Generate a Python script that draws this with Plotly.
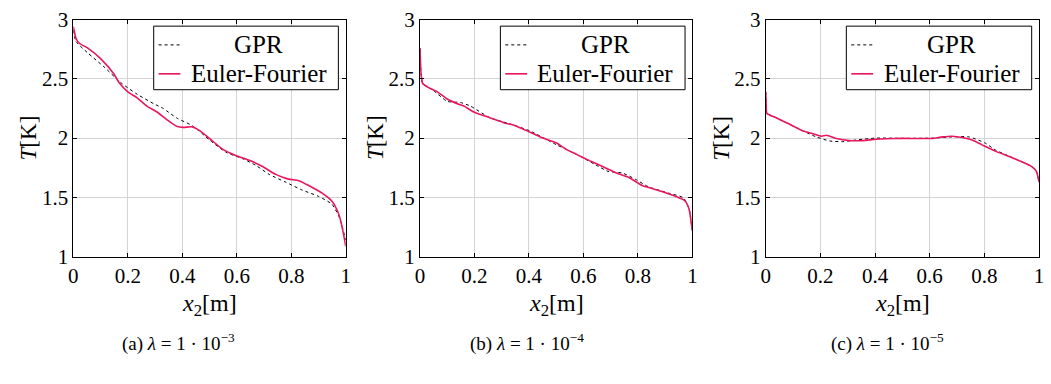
import plotly.graph_objects as go

# ---------------- data ----------------
# Panel (a) lambda = 1e-3
a_ef_x = [0.0, 0.01, 0.022, 0.052, 0.1, 0.149, 0.167, 0.2, 0.234, 0.27, 0.307, 0.343, 0.379, 0.404,
          0.434, 0.464, 0.5, 0.549, 0.598, 0.646, 0.695, 0.743, 0.79, 0.828, 0.864, 0.913, 0.949,
          0.967, 0.979, 0.992, 1.0]
a_ef_y = [2.94, 2.84, 2.80, 2.76, 2.67, 2.54, 2.47, 2.39, 2.34, 2.27, 2.22, 2.156, 2.10, 2.09,
          2.095, 2.063, 1.997, 1.905, 1.852, 1.813, 1.76, 1.694, 1.654, 1.641, 1.60, 1.536, 1.47,
          1.40, 1.325, 1.19, 1.087]
a_gpr_x = [0.0, 0.01, 0.052, 0.113, 0.173, 0.234, 0.295, 0.33, 0.379, 0.44, 0.5, 0.561, 0.622,
           0.67, 0.719, 0.78, 0.84, 0.9, 0.949, 0.973, 0.985, 1.0]
a_gpr_y = [2.91, 2.815, 2.72, 2.60, 2.47, 2.37, 2.29, 2.25, 2.17, 2.10, 1.984, 1.88, 1.826,
           1.77, 1.694, 1.628, 1.562, 1.509, 1.443, 1.35, 1.27, 1.14]

# Panel (b) lambda = 1e-4
b_ef_x = [0.0, 0.004, 0.01, 0.028, 0.064, 0.1, 0.137, 0.161, 0.198, 0.258, 0.307, 0.343, 0.404,
          0.452, 0.5, 0.537, 0.573, 0.622, 0.67, 0.719, 0.767, 0.816, 0.852, 0.888, 0.937, 0.973,
          0.988, 0.995, 1.0]
b_ef_y = [2.76, 2.54, 2.46, 2.43, 2.39, 2.33, 2.29, 2.27, 2.22, 2.17, 2.13, 2.11, 2.05,
          2.00, 1.96, 1.905, 1.865, 1.81, 1.76, 1.707, 1.668, 1.60, 1.575, 1.55, 1.51, 1.47,
          1.40, 1.30, 1.22]
b_gpr_x = [0.0, 0.004, 0.01, 0.05, 0.1, 0.149, 0.185, 0.258, 0.33, 0.404, 0.5, 0.573, 0.646,
           0.69, 0.743, 0.79, 0.84, 0.913, 0.967, 0.988, 0.995, 1.0]
b_gpr_y = [2.75, 2.54, 2.46, 2.40, 2.31, 2.30, 2.27, 2.17, 2.12, 2.06, 1.945, 1.865, 1.773,
           1.72, 1.705, 1.654, 1.588, 1.536, 1.496, 1.40, 1.30, 1.22]

# Panel (c) lambda = 1e-5
c_ef_x = [0.0, 0.002, 0.004, 0.04, 0.088, 0.137, 0.173, 0.204, 0.222, 0.258, 0.307, 0.355,
          0.404, 0.476, 0.549, 0.61, 0.646, 0.682, 0.719, 0.755, 0.79, 0.84, 0.888, 0.937,
          0.973, 0.99, 1.0]
c_ef_y = [2.39, 2.27, 2.21, 2.17, 2.116, 2.06, 2.037, 2.016, 2.024, 1.997, 1.979, 1.979,
          1.99, 1.997, 1.997, 1.997, 2.01, 2.016, 2.005, 1.984, 1.945, 1.89, 1.847, 1.80,
          1.76, 1.72, 1.63]
c_gpr_x = [0.0, 0.002, 0.004, 0.04, 0.088, 0.137, 0.185, 0.234, 0.282, 0.33, 0.404, 0.5,
           0.61, 0.682, 0.743, 0.803, 0.84, 0.888, 0.937, 0.973, 0.99, 1.0]
c_gpr_y = [2.39, 2.27, 2.21, 2.17, 2.116, 2.06, 2.01, 1.976, 1.97, 1.984, 2.0, 1.998,
           2.0, 2.01, 2.01, 1.958, 1.90, 1.85, 1.80, 1.76, 1.72, 1.63]

panels = [
    (a_gpr_x, a_gpr_y, a_ef_x, a_ef_y, "(a) <i>λ</i> = 1 · 10<sup>−3</sup>"),
    (b_gpr_x, b_gpr_y, b_ef_x, b_ef_y, "(b) <i>λ</i> = 1 · 10<sup>−4</sup>"),
    (c_gpr_x, c_gpr_y, c_ef_x, c_ef_y, "(c) <i>λ</i> = 1 · 10<sup>−5</sup>"),
]

x_ticks = [0, 0.2, 0.4, 0.6, 0.8, 1]
x_ticklabels = ["0", "0.2", "0.4", "0.6", "0.8", "1"]
y_ticks = [1, 1.5, 2, 2.5, 3]
y_ticklabels = ["1", "1.5", "2", "2.5", "3"]
legend_labels = ["GPR", "Euler-Fourier"]

# ---------------- style ----------------
W, H = 1051, 384
PINK = "rgb(232,23,93)"
FONT = "'Liberation Serif', 'DejaVu Serif', serif"
x_dom_px = [(69, 344), (419, 694), (768, 1044)]
y_dom = [1 - 261 / H, 1 - 8 / H]
caption_px = [175, 527, 891]

fig = go.Figure()
shapes = []
annotations = []

for i, (gx, gy, ex, ey, cap) in enumerate(panels):
    n = "" if i == 0 else str(i + 1)
    xa, ya = "x" + n, "y" + n
    fig.add_trace(go.Scatter(x=gx, y=gy, mode="lines", xaxis=xa, yaxis=ya, showlegend=False,
                             line=dict(color="black", width=1, dash="3px,3px", shape="spline",
                                       smoothing=0.6)))
    fig.add_trace(go.Scatter(x=ex, y=ey, mode="lines", xaxis=xa, yaxis=ya, showlegend=False,
                             line=dict(color=PINK, width=1.6, shape="spline", smoothing=0.6)))
    axis_common = dict(showline=True, linecolor="black", linewidth=1, mirror="ticks",
                       ticks="inside", ticklen=4, tickcolor="black", showgrid=True,
                       gridcolor="#d4d4d4", gridwidth=1, zeroline=False,
                       ticklabeloverflow="allow",
                       tickfont=dict(family=FONT, size=21, color="black"))
    fig.update_layout(**{
        "xaxis" + n: dict(domain=[x_dom_px[i][0] / W, x_dom_px[i][1] / W], range=[0, 1],
                          tickvals=x_ticks, ticktext=x_ticklabels, anchor=ya, **axis_common),
        "yaxis" + n: dict(domain=y_dom, range=[1, 3], tickvals=y_ticks, ticktext=y_ticklabels,
                          anchor=xa, **axis_common),
    })
    xd, yd = xa + " domain", ya + " domain"
    # legend box
    shapes.append(dict(type="rect", xref=xd, yref=yd, x0=0.295, x1=0.973, y0=0.704, y1=0.972,
                       line=dict(color="black", width=1), fillcolor="white", layer="above"))
    shapes.append(dict(type="line", xref=xd, yref=yd, x0=0.313, x1=0.393, y0=0.893, y1=0.893,
                       line=dict(color="black", width=1, dash="3px,3px"), layer="above"))
    shapes.append(dict(type="line", xref=xd, yref=yd, x0=0.313, x1=0.393, y0=0.771, y1=0.771,
                       line=dict(color=PINK, width=1.6), layer="above"))
    for lab, yy in zip(legend_labels, [0.893, 0.771]):
        annotations.append(dict(text=lab, xref=xd, yref=yd, x=0.68, y=yy, showarrow=False,
                                xanchor="center", yanchor="middle",
                                font=dict(family=FONT, size=25, color="black")))
    # axis titles
    annotations.append(dict(text="<i>x</i><sub>2</sub>[m]", xref=xd, yref="paper", x=0.5,
                            y=1 - 312 / H, showarrow=False, xanchor="center", yanchor="middle",
                            font=dict(family=FONT, size=24, color="black")))
    annotations.append(dict(text="<i>T</i>[K]", xref=xd, yref=yd, x=0, y=0.5, xshift=-45,
                            showarrow=False, textangle=-90, xanchor="center", yanchor="middle",
                            font=dict(family=FONT, size=23, color="black")))
    annotations.append(dict(text=cap, xref="paper", yref="paper", x=caption_px[i] / W,
                            y=1 - 352 / H, showarrow=False, xanchor="center", yanchor="middle",
                            font=dict(family=FONT, size=19, color="black")))

fig.update_layout(width=W, height=H, margin=dict(l=0, r=0, t=0, b=0),
                  paper_bgcolor="white", plot_bgcolor="white",
                  shapes=shapes, annotations=annotations, showlegend=False)

fig.write_html("out.html")
